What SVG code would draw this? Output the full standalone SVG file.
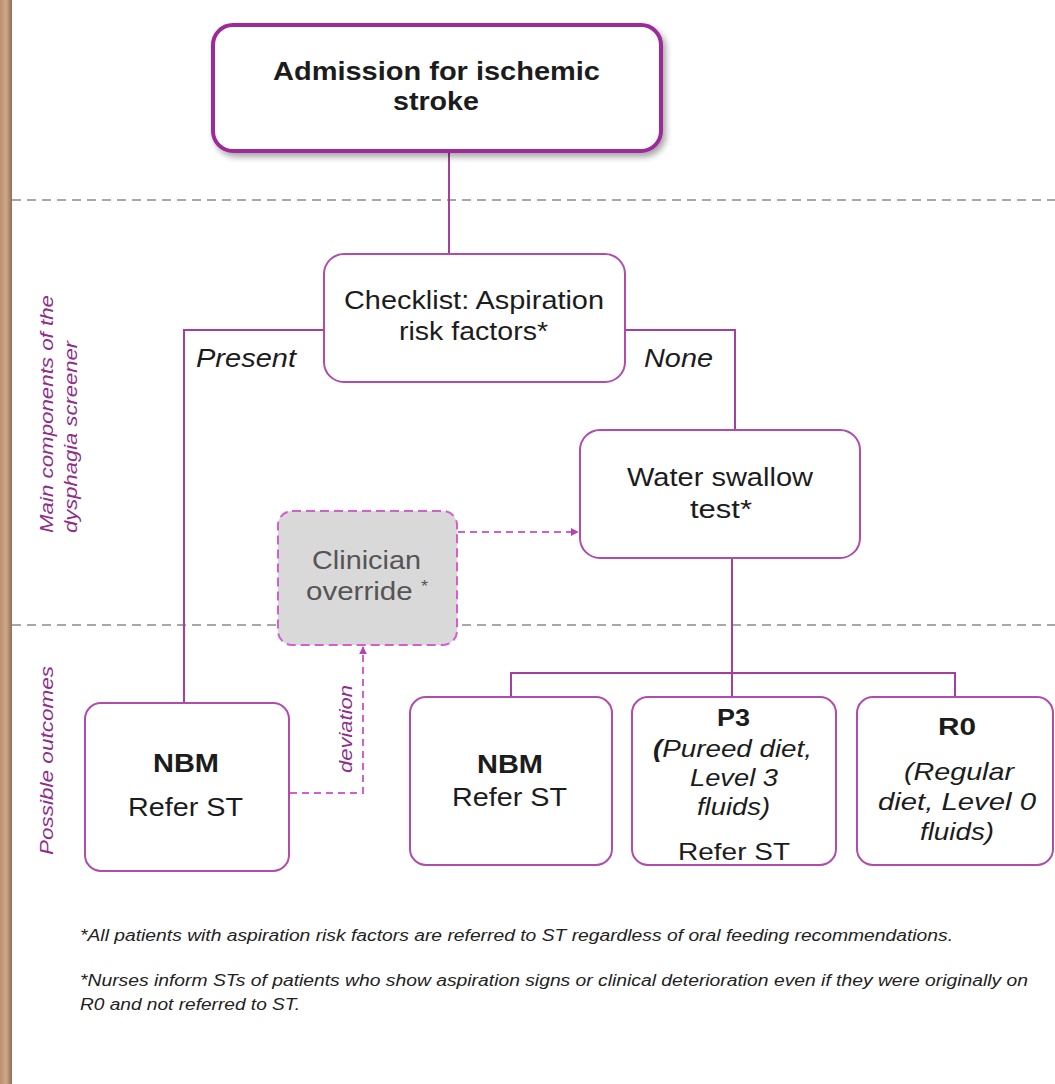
<svg xmlns="http://www.w3.org/2000/svg" width="1055" height="1084" viewBox="0 0 1055 1084">
<style>
text{font-family:"Liberation Sans",Arial,sans-serif;fill:#1c1c1c}
.box{fill:#fff;stroke:#b04cac;stroke-width:2}
.c{text-anchor:middle}
.b{font-weight:bold}
.i{font-style:italic}
.conn{fill:none;stroke:#a43ea1;stroke-width:2}
.dash{fill:none;stroke:#d25fcf;stroke-width:2;stroke-dasharray:7,5}
.sep{stroke:#8c8c8c;stroke-width:1.3;stroke-dasharray:9,6}
.side{fill:#8e2d8b;font-style:italic;font-size:18px}
.foot{font-style:italic;font-size:16px;fill:#222}
</style>
<defs>
<linearGradient id="wood" x1="0" y1="0" x2="1" y2="0">
<stop offset="0" stop-color="#b8916f"/>
<stop offset="0.5" stop-color="#cfa888"/>
<stop offset="1" stop-color="#8f6e57"/>
</linearGradient>
<filter id="sh" x="-10%" y="-10%" width="125%" height="130%">
<feDropShadow dx="3" dy="4" stdDeviation="3" flood-color="#000" flood-opacity="0.35"/>
</filter>
<marker id="ah" viewBox="0 0 10 10" refX="9" refY="5" markerWidth="4" markerHeight="4" orient="auto">
<path d="M0,0L10,5L0,10z" fill="#b343b0"/>
</marker>
</defs>
<rect x="0" y="0" width="1055" height="1084" fill="#fff"/>
<rect x="0" y="0" width="12" height="1084" fill="url(#wood)"/>

<g id="separators">
<line class="sep" x1="12" y1="200" x2="1055" y2="200"/>
<line class="sep" x1="12" y1="625" x2="1055" y2="625"/>
</g>

<g id="side-labels">
<text class="side" transform="translate(53,533) rotate(-90)" textLength="238" lengthAdjust="spacingAndGlyphs">Main components of the</text>
<text class="side" transform="translate(77,533) rotate(-90)" textLength="192" lengthAdjust="spacingAndGlyphs">dysphagia screener</text>
<text class="side" transform="translate(53,855) rotate(-90)" textLength="189" lengthAdjust="spacingAndGlyphs">Possible outcomes</text>
</g>

<g id="connectors">
<line class="conn" x1="449" y1="152" x2="449" y2="254"/>
<polyline class="conn" points="324,330 184,330 184,703"/>
<polyline class="conn" points="625,330 735,330 735,430"/>
<line class="conn" x1="732" y1="558" x2="732" y2="697"/>
<polyline class="conn" points="511,697 511,673 955,673 955,697"/>
<line class="dash" x1="458" y1="532" x2="578" y2="532" marker-end="url(#ah)"/>
<polyline class="dash" points="290,793 363,793 363,647" marker-end="url(#ah)"/>
<text class="i" x="196" y="367" font-size="25" textLength="100" lengthAdjust="spacingAndGlyphs">Present</text>
<text class="i" x="644" y="367" font-size="25" textLength="69" lengthAdjust="spacingAndGlyphs">None</text>
<text class="side" transform="translate(352,773) rotate(-90)" font-size="17" textLength="88" lengthAdjust="spacingAndGlyphs">deviation</text>
</g>

<g id="admission">
<rect x="213" y="25" width="448" height="126" rx="20" fill="#fff" stroke="#9d2b99" stroke-width="4" filter="url(#sh)"/>
<text class="b" x="273" y="80" font-size="26" textLength="327" lengthAdjust="spacingAndGlyphs">Admission for ischemic</text>
<text class="b" x="393" y="110" font-size="26" textLength="86" lengthAdjust="spacingAndGlyphs">stroke</text>
</g>

<g id="checklist">
<rect class="box" x="324" y="254" width="301" height="128" rx="20"/>
<text x="344" y="309" font-size="26" textLength="260" lengthAdjust="spacingAndGlyphs">Checklist: Aspiration</text>
<text x="399" y="340" font-size="26" textLength="149" lengthAdjust="spacingAndGlyphs">risk factors*</text>
</g>

<g id="water">
<rect class="box" x="580" y="430" width="280" height="128" rx="20"/>
<text x="627" y="486" font-size="26" textLength="186" lengthAdjust="spacingAndGlyphs">Water swallow</text>
<text x="690" y="518" font-size="26" textLength="62" lengthAdjust="spacingAndGlyphs">test*</text>
</g>

<g id="override">
<rect x="278" y="511" width="179" height="134" rx="14" fill="#d9d9d9" stroke="#d35ed0" stroke-width="2" stroke-dasharray="9,5"/>
<text x="312" y="569" font-size="26" fill="#555" style="fill:#555" textLength="109" lengthAdjust="spacingAndGlyphs">Clinician</text>
<text x="306" y="600" font-size="26" style="fill:#555" textLength="122" lengthAdjust="spacingAndGlyphs">override <tspan font-size="16" dy="-8">*</tspan></text>
</g>

<g id="nbm-left">
<rect class="box" x="85" y="703" width="204" height="168" rx="16"/>
<text class="b" x="153" y="772" font-size="25" textLength="66" lengthAdjust="spacingAndGlyphs">NBM</text>
<text x="128" y="816" font-size="26" textLength="115" lengthAdjust="spacingAndGlyphs">Refer ST</text>
</g>

<g id="nbm-right">
<rect class="box" x="410" y="697" width="202" height="168" rx="16"/>
<text class="b" x="477" y="773" font-size="25" textLength="66" lengthAdjust="spacingAndGlyphs">NBM</text>
<text x="452" y="806" font-size="26" textLength="115" lengthAdjust="spacingAndGlyphs">Refer ST</text>
</g>

<g id="p3">
<rect class="box" x="632" y="697" width="204" height="168" rx="16"/>
<text class="b" x="717" y="726" font-size="24" textLength="33" lengthAdjust="spacingAndGlyphs">P3</text>
<text class="i" x="653" y="757" font-size="24" textLength="159" lengthAdjust="spacingAndGlyphs"><tspan font-weight="bold">(</tspan>Pureed diet,</text>
<text class="i" x="690" y="786" font-size="24" textLength="88" lengthAdjust="spacingAndGlyphs">Level 3</text>
<text class="i" x="697" y="815" font-size="24" textLength="73" lengthAdjust="spacingAndGlyphs">fluids)</text>
<text x="678" y="860" font-size="24" textLength="112" lengthAdjust="spacingAndGlyphs">Refer ST</text>
</g>

<g id="r0">
<rect class="box" x="857" y="697" width="196" height="168" rx="16"/>
<text class="b" x="938" y="735" font-size="24" textLength="38" lengthAdjust="spacingAndGlyphs">R0</text>
<text class="i" x="904" y="780" font-size="24" textLength="110" lengthAdjust="spacingAndGlyphs">(Regular</text>
<text class="i" x="878" y="810" font-size="24" textLength="158" lengthAdjust="spacingAndGlyphs">diet, Level 0</text>
<text class="i" x="920" y="840" font-size="24" textLength="74" lengthAdjust="spacingAndGlyphs">fluids)</text>
</g>

<g id="footnotes">
<text class="foot" x="80" y="941" textLength="873" lengthAdjust="spacingAndGlyphs">*All patients with aspiration risk factors are referred to ST regardless of oral feeding recommendations.</text>
<text class="foot" x="80" y="986" textLength="948" lengthAdjust="spacingAndGlyphs">*Nurses inform STs of patients who show aspiration signs or clinical deterioration even if they were originally on</text>
<text class="foot" x="80" y="1010" textLength="220" lengthAdjust="spacingAndGlyphs">R0 and not referred to ST.</text>
</g>
</svg>
